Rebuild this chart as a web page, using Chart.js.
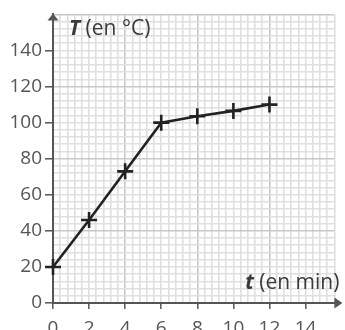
<!DOCTYPE html>
<html>
<head>
<meta charset="utf-8">
<script src="https://cdn.jsdelivr.net/npm/chart.js@4/dist/chart.umd.min.js"></script>
<style>
  html, body { margin: 0; padding: 0; background: #fff; }
  #wrap { width: 345px; height: 330px; position: relative; }
</style>
</head>
<body>
<div id="wrap"><canvas id="chart"></canvas></div>
<script>
// values
const times = [0, 2, 4, 6, 8, 10, 12];
const temps = [20, 46, 73, 100, 103.5, 106.5, 110];
const xLabels = [0, 2, 4, 6, 8, 10, 12, 14];
const yLabels = [0, 20, 40, 60, 80, 100, 120, 140];
const yTitle = ['T', ' (en °C)'];
const xTitle = ['t', ' (en min)'];

const FONT = '"Open Sans", sans-serif';
const near = (v, list) => list.find(l => Math.abs(l - v) < 1e-6);
const isMult = (v, m) => Math.abs(v / m - Math.round(v / m)) < 1e-6;

// arrows + axis titles
const decor = {
  id: 'decor',
  afterDraw(chart) {
    const ctx = chart.ctx;
    const x = chart.scales.x, y = chart.scales.y;
    const x0 = x.getPixelForValue(0), y0 = y.getPixelForValue(0);
    const area = chart.chartArea;
    ctx.save();
    ctx.fillStyle = '#555';
    // vertical arrow
    ctx.beginPath();
    ctx.moveTo(x0, area.top - 1);
    ctx.lineTo(x0 - 5.5, area.top + 6);
    ctx.lineTo(x0 + 5.5, area.top + 6);
    ctx.closePath();
    ctx.fill();
    // horizontal arrow
    ctx.beginPath();
    ctx.moveTo(area.right + 8, y0);
    ctx.lineTo(area.right, y0 - 5.5);
    ctx.lineTo(area.right, y0 + 5.5);
    ctx.closePath();
    ctx.fill();

    ctx.fillStyle = '#3a3a3a';
    ctx.textBaseline = 'alphabetic';
    ctx.textAlign = 'left';
    // T (en °C)
    let px = x0 + 16;
    ctx.font = 'italic bold 21px ' + FONT;
    ctx.fillText(yTitle[0], px, 35);
    px += ctx.measureText(yTitle[0]).width;
    ctx.font = '21px ' + FONT;
    ctx.fillText(yTitle[1], px, 35);
    // t (en min), right aligned
    ctx.font = '21px ' + FONT;
    const w2 = ctx.measureText(xTitle[1]).width;
    ctx.font = 'italic bold 21px ' + FONT;
    const w1 = ctx.measureText(xTitle[0]).width;
    let sx = area.right + 5 - w1 - w2;
    ctx.fillText(xTitle[0], sx, 289);
    ctx.font = '21px ' + FONT;
    ctx.fillText(xTitle[1], sx + w1, 289);
    ctx.restore();
  }
};

new Chart(document.getElementById('chart'), {
  type: 'line',
  data: {
    datasets: [{
      data: times.map((t, i) => ({ x: t, y: temps[i] })),
      borderColor: '#222',
      borderWidth: 2.6,
      pointStyle: 'cross',
      pointRadius: 8,
      pointBorderWidth: 2.6,
      pointBorderColor: '#222',
      pointHoverRadius: 8,
      tension: 0,
      fill: false,
      clip: false
    }]
  },
  options: {
    responsive: true,
    maintainAspectRatio: false,
    animation: false,
    layout: { padding: { top: 13, right: 8, left: 0, bottom: 0 } },
    plugins: { legend: { display: false }, tooltip: { enabled: false } },
    scales: {
      x: {
        type: 'linear',
        min: 0,
        max: 15.6,
        afterFit: s => { s.height = 27; },
        border: { color: '#555', width: 2 },
        grid: {
          drawTicks: true,
          tickLength: 6,
          tickWidth: 1.5,
          tickColor: c => near(c.tick.value, xLabels) !== undefined ? '#555' : 'rgba(0,0,0,0)',
          color: c => isMult(c.tick.value, 4) ? '#c8c8c8' : '#dfdfdf',
          lineWidth: 1.6
        },
        ticks: {
          stepSize: 0.4,
          autoSkip: false,
          maxRotation: 0,
          padding: 8,
          color: '#555',
          font: { family: FONT, size: 19 },
          callback: v => { const l = near(v, xLabels); return l !== undefined ? String(l) : ''; }
        }
      },
      y: {
        min: 0,
        max: 160,
        afterFit: s => { s.width = 53; },
        border: { color: '#555', width: 2 },
        grid: {
          drawTicks: true,
          tickLength: 8,
          tickWidth: 1.5,
          tickColor: c => near(c.tick.value, yLabels) !== undefined ? '#555' : 'rgba(0,0,0,0)',
          color: c => isMult(c.tick.value, 40) ? '#c8c8c8' : '#dfdfdf',
          lineWidth: 1.6
        },
        ticks: {
          stepSize: 4,
          autoSkip: false,
          padding: 3,
          color: '#555',
          font: { family: FONT, size: 19 },
          callback: v => { const l = near(v, yLabels); return l !== undefined ? String(l) : ''; }
        }
      }
    }
  },
  plugins: [decor]
});
</script>
</body>
</html>
